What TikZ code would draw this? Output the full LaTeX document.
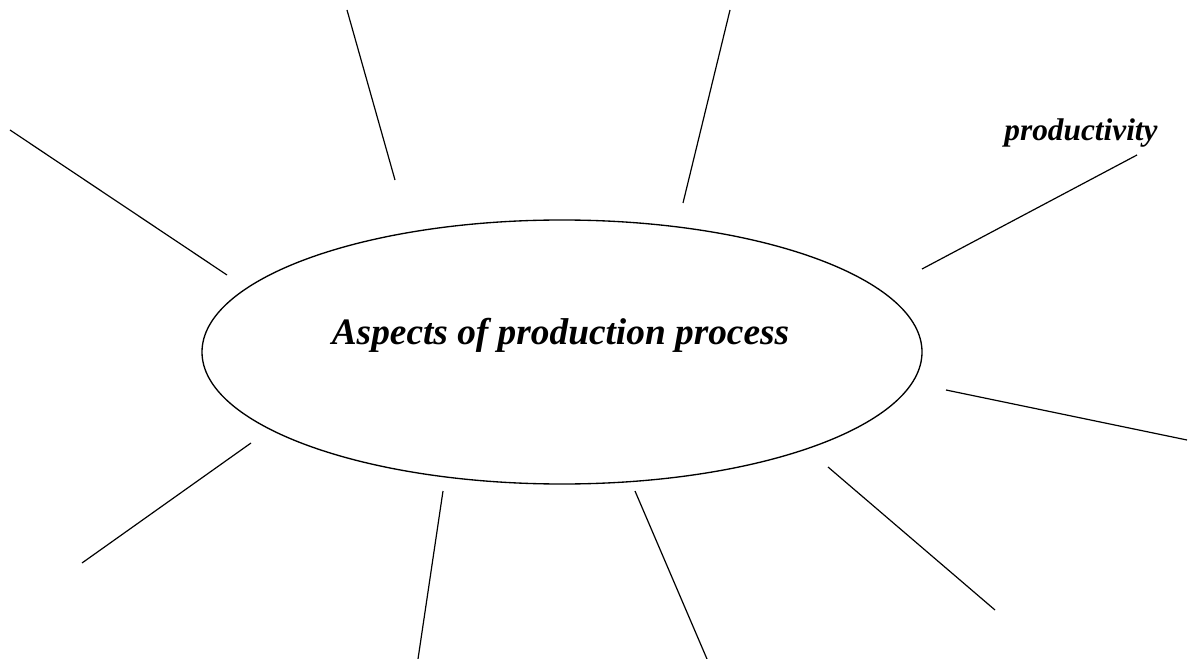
\documentclass[tikz,border=0pt]{standalone}
\usepackage{fontspec}
\setmainfont{Liberation Serif}
\usepackage{tikz}
\usetikzlibrary{positioning}
\tikzset{spoke/.style={line width=0.9pt,black}}

\begin{document}
\begin{tikzpicture}[x=0.75pt,y=-0.75pt] % pixel units
            \useasboundingbox (0,0) rectangle (1188,659);
            \draw[line width=1pt] (562,352) ellipse (360 and 132);  % central oval
            \node[anchor=base,font=\fontsize{28}{32}\selectfont\bfseries\itshape] (aspects) at (560.5,344) {Aspects of production process};
            \node[anchor=base,font=\fontsize{23.5}{27}\selectfont\bfseries\itshape] (prod) at (1081,141) {productivity};
            % spokes round the oval
            \draw[spoke] (10,130)--(227,275);
            \draw[spoke] (347,10)--(395,180);
            \draw[spoke] (730,10)--(683,203);
            \draw[spoke] (1137,155)--(922,269);
            \draw[spoke] (946,390)--(1187,440);
            \draw[spoke] (828,467)--(995,610);
            \draw[spoke] (635,491)--(707,659);
            \draw[spoke] (443,491)--(418,659);
            \draw[spoke] (251,443)--(82,563);
        \end{tikzpicture}
\end{document}
